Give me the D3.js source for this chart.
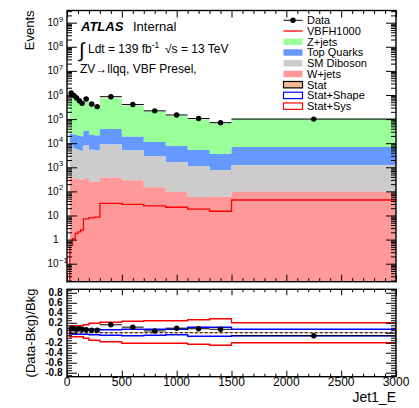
<!DOCTYPE html>
<html><head><meta charset="utf-8">
<script src="https://cdn.jsdelivr.net/npm/d3@7"></script>
<style>
body{margin:0;background:#fff;}
svg{display:block;font-family:"Liberation Sans",Arial,Helvetica,sans-serif;}
</style></head><body>
<svg id="c" width="419" height="408"></svg>
<script>
// ---------------- data ----------------
const binEdges = [25,50,75,100,125,150,200,250,300,500,700,900,1100,1300,1500,3000];
const dataValues = [1200000,950000,750000,580000,450000,680000,420000,330000,850000,400000,220000,148000,105000,71000,100000];
const zjets     = [1086000,857000,679000,517000,402000,609000,378000,293000,694000,341000,201000,128000,92000,62800,99500];
const topQuarks = [16500,16800,16500,15000,14200,25000,16700,16000,30200,13600,8350,5940,4070,2830,5640];
const diboson   = [8020,5880,5170,4700,4500,7650,5050,4750,8420,4710,2700,1560,1070,710,1160];
const wjets     = [480,320,330,300,300,350,250,250,380,290,148,96,58,60,96];
const signalVBFH1000 = [0.58,1.1,1.8,2.1,2.5,7.2,8.0,8.6,32,29,25,22,18.5,15,44];
const statSysUp     = [0.11,0.14,0.14,0.14,0.14,0.16,0.19,0.19,0.21,0.23,0.24,0.24,0.26,0.28,0.20];
const statSysDown   = [0.08,0.08,0.08,0.08,0.08,0.11,0.15,0.15,0.18,0.21,0.21,0.21,0.23,0.25,0.20];
const statShapeUp   = [0.07,0.07,0.07,0.07,0.07,0.07,0.07,0.07,0.06,0.07,0.07,0.07,0.11,0.11,0.07];
const statShapeDown = [0.03,0.03,0.03,0.03,0.03,0.03,0.04,0.04,0.05,0.06,0.05,0.04,0.07,0.07,0.06];
const statOnly      = [0.008,0.008,0.008,0.008,0.008,0.008,0.008,0.008,0.008,0.008,0.008,0.008,0.008,0.008,0.008];
const xTickValues = [0,500,1000,1500,2000,2500,3000];
const mainYTickValues = [0.1,1,10,100,1e3,1e4,1e5,1e6,1e7,1e8,1e9];
const ratioYTickValues = [-0.8,-0.6,-0.4,-0.2,0,0.2,0.4,0.6,0.8];
const legendLabels = ["Data","VBFH1000","Z+jets","Top Quarks","SM Diboson","W+jets","Stat","Stat+Shape","Stat+Sys"];
const colors = {z:"#99ff99", top:"#6699ff", db:"#cccccc", w:"#ff9999", sig:"#ff0000", stat:"#f6b895", shape:"#0000ff", sys:"#ff0000"};

// ---------------- layout ----------------
const svg = d3.select("#c");
const M = {l:67, r:396, t:10.5, b:281.7};
const R = {t:289.3, b:376.7};
const x = d3.scaleLinear().domain([0,3000]).range([M.l,M.r]);
const y = d3.scaleLog().domain([0.0179,3.2e9]).range([M.b,M.t]);
const yr = d3.scaleLinear().domain([-0.88,0.87]).range([R.b,R.t]);

const bins = dataValues.map((d,i)=>{
  const b={x0:binEdges[i],x1:binEdges[i+1],data:d,sig:signalVBFH1000[i]};
  b.c1=wjets[i]; b.c2=b.c1+diboson[i]; b.c3=b.c2+topQuarks[i]; b.c4=b.c3+zjets[i];
  b.ratio=(d-b.c4)/b.c4;
  b.su=statSysUp[i]; b.sd=statSysDown[i]; b.hu=statShapeUp[i]; b.hd=statShapeDown[i]; b.st=statOnly[i];
  return b;
});

const defs = svg.append("defs");
defs.append("clipPath").attr("id","clipM").append("rect")
  .attr("x",M.l).attr("y",M.t).attr("width",M.r-M.l).attr("height",M.b-M.t);
defs.append("clipPath").attr("id","clipR").append("rect")
  .attr("x",M.l).attr("y",R.t).attr("width",M.r-M.l).attr("height",R.b-R.t);

// ---------------- main stack ----------------
const gm = svg.append("g").attr("clip-path","url(#clipM)");
const area = d3.area().x(d=>x(d.x)).y0(d=>d.y0).y1(d=>d.y1);
const layers = [
  {top:"c4", bot:"c3", col:colors.z},
  {top:"c3", bot:"c2", col:colors.top},
  {top:"c2", bot:"c1", col:colors.db},
  {top:"c1", bot:null, col:colors.w}
];
layers.forEach(L=>{
  const pts = bins.flatMap(b=>{
    const y1=y(b[L.top]), y0=L.bot?y(b[L.bot]):M.b+2;
    return [{x:b.x0,y0,y1},{x:b.x1,y0,y1}];
  });
  gm.append("path").attr("d",area(pts)).attr("fill",L.col).attr("stroke","none");
});

// signal
const sigPts = [{x:bins[0].x0,y:M.b+2}].concat(bins.flatMap(b=>[{x:b.x0,y:y(b.sig)},{x:b.x1,y:y(b.sig)}]));
gm.append("path").attr("d",d3.line().x(d=>x(d.x)).y(d=>d.y)(sigPts))
  .attr("fill","none").attr("stroke",colors.sig).attr("stroke-width",1.3);

// data points main
const gd = gm.append("g");
bins.forEach(b=>{
  gd.append("line").attr("x1",x(b.x0)).attr("x2",x(b.x1)).attr("y1",y(b.data)).attr("y2",y(b.data))
    .attr("stroke","#000").attr("stroke-width",1);
  gd.append("circle").attr("cx",x((b.x0+b.x1)/2)).attr("cy",y(b.data)).attr("r",2.7).attr("fill","#000");
});

// ---------------- ratio ----------------
const gr = svg.append("g").attr("clip-path","url(#clipR)");
function bandPath(up,dn){
  const u = bins.flatMap(b=>[[x(b.x0),yr(up(b))],[x(b.x1),yr(up(b))]]);
  const d = bins.flatMap(b=>[[x(b.x0),yr(-dn(b))],[x(b.x1),yr(-dn(b))]]).reverse();
  return d3.line()(u.concat(d))+"Z";
}
gr.append("path").attr("d",bandPath(b=>b.st,b=>b.st)).attr("fill",colors.stat).attr("stroke","none");
gr.append("path").attr("d",bandPath(b=>b.hu,b=>b.hd)).attr("fill","none").attr("stroke",colors.shape).attr("stroke-width",1.3);
gr.append("path").attr("d",bandPath(b=>b.su,b=>b.sd)).attr("fill","none").attr("stroke",colors.sys).attr("stroke-width",1.3);
gr.append("line").attr("x1",x(bins[0].x0)).attr("x2",x(3000)).attr("y1",yr(0)).attr("y2",yr(0))
  .attr("stroke","#000").attr("stroke-width",1.2).attr("stroke-dasharray","3,2");
bins.forEach(b=>{
  gr.append("line").attr("x1",x(b.x0)).attr("x2",x(b.x1)).attr("y1",yr(b.ratio)).attr("y2",yr(b.ratio))
    .attr("stroke","#000").attr("stroke-width",1);
  gr.append("circle").attr("cx",x((b.x0+b.x1)/2)).attr("cy",yr(b.ratio)).attr("r",2.7).attr("fill","#000");
});

// ---------------- axes ----------------
function drawAxis(axisFn, scale, values, len, tr){
  const g = svg.append("g").attr("transform",tr)
    .call(axisFn(scale).tickValues(values).tickSize(-len).tickSizeOuter(0).tickFormat(""));
  g.select(".domain").remove();
  g.selectAll("line").attr("stroke","#000").attr("stroke-width",1);
  return g;
}
const xMinor = d3.range(0,3001,100).filter(v=>v%500!==0);
const logMinor = [];
for(let e=-2;e<=9;e++) for(let k=2;k<=9;k++){const v=k*Math.pow(10,e); if(v>=0.0179&&v<=3.2e9) logMinor.push(v);}
const rMinor = d3.range(-0.85,0.86,0.05).map(v=>Math.round(v*100)/100).filter(v=>Math.abs(Math.round(v*100))%20!==0);

// main
drawAxis(d3.axisBottom,x,xTickValues,7,`translate(0,${M.b})`);
drawAxis(d3.axisBottom,x,xMinor,3.5,`translate(0,${M.b})`);
drawAxis(d3.axisTop,x,xTickValues,7,`translate(0,${M.t})`);
drawAxis(d3.axisTop,x,xMinor,3.5,`translate(0,${M.t})`);
drawAxis(d3.axisLeft,y,mainYTickValues,10,`translate(${M.l},0)`);
drawAxis(d3.axisLeft,y,logMinor,5,`translate(${M.l},0)`);
drawAxis(d3.axisRight,y,mainYTickValues,10,`translate(${M.r},0)`);
drawAxis(d3.axisRight,y,logMinor,5,`translate(${M.r},0)`);
// ratio
drawAxis(d3.axisBottom,x,xTickValues,6,`translate(0,${R.b})`);
drawAxis(d3.axisBottom,x,xMinor,3,`translate(0,${R.b})`);
drawAxis(d3.axisTop,x,xTickValues,6,`translate(0,${R.t})`);
drawAxis(d3.axisTop,x,xMinor,3,`translate(0,${R.t})`);
drawAxis(d3.axisLeft,yr,ratioYTickValues,10,`translate(${M.l},0)`);
drawAxis(d3.axisLeft,yr,rMinor,5,`translate(${M.l},0)`);
drawAxis(d3.axisRight,yr,ratioYTickValues,10,`translate(${M.r},0)`);
drawAxis(d3.axisRight,yr,rMinor,5,`translate(${M.r},0)`);

// frames
[[M.t,M.b],[R.t,R.b]].forEach(([t,b])=>{
  svg.append("rect").attr("x",M.l).attr("y",t).attr("width",M.r-M.l).attr("height",b-t)
    .attr("fill","none").attr("stroke","#000").attr("stroke-width",1.4);
});

// tick labels main y
const gl = svg.append("g").attr("font-size",10).attr("fill","#000");
mainYTickValues.forEach(v=>{
  const e = Math.round(Math.log10(v));
  const yy = y(v)+3.6;
  if(e===0||e===1){
    gl.append("text").attr("x",58.5).attr("y",yy).attr("text-anchor","end").text(e===0?"1":"10");
  } else {
    gl.append("text").attr("x",58.5).attr("y",yy).attr("text-anchor","end").text("10");
    gl.append("text").attr("x",59).attr("y",yy-4.5).attr("font-size",7.5).text(e<0?"\u2212"+(-e):String(e));
  }
});
// ratio y labels
const grl = svg.append("g").attr("font-size",10).attr("font-weight","bold").attr("fill","#000").attr("text-anchor","end");
ratioYTickValues.forEach(v=>{
  grl.append("text").attr("x",62.5).attr("y",yr(v)+3.6).text(v===0?"0":(v<0?"-":"")+Math.abs(v).toFixed(1));
});
// ratio x labels
const gxl = svg.append("g").attr("font-size",12).attr("fill","#000").attr("text-anchor","middle");
xTickValues.forEach(v=>{
  gxl.append("text").attr("x",x(v)).attr("y",386).text(String(v));
});

// axis titles
svg.append("text").attr("transform","translate(34,10.5) rotate(-90)").attr("text-anchor","end")
  .attr("font-size",13).text("Events");
svg.append("text").attr("transform",`translate(35,${(R.t+R.b)/2}) rotate(-90)`).attr("text-anchor","middle")
  .attr("font-size",13).text("(Data-Bkg)/Bkg");
svg.append("text").attr("x",396).attr("y",402).attr("text-anchor","end").attr("font-size",14).text("Jet1_E");

// ATLAS labels
svg.append("text").attr("x",81).attr("y",30.7).attr("font-size",13).attr("font-weight","bold").attr("font-style","italic").text("ATLAS");
svg.append("text").attr("x",133).attr("y",30.7).attr("font-size",13).text("Internal");
svg.append("text").attr("x",79).attr("y",57).attr("font-size",20).text("\u222B");
const lum = svg.append("text").attr("x",88).attr("y",53.3).attr("font-size",12);
lum.append("tspan").text("Ldt = 139 fb");
lum.append("tspan").attr("dy",-5).attr("font-size",8.5).text("-1");
const rs = svg.append("text").attr("x",165).attr("y",53.3).attr("font-size",12);
rs.append("tspan").text("\u221As = 13 TeV");
svg.append("text").attr("x",80).attr("y",72.7).attr("font-size",12).text("ZV\u2192llqq, VBF Presel,");

// legend
const lg = svg.append("g");
const lx0=283.5, lw=19, ly0=20.3, ldy=10.73;
legendLabels.forEach((lab,i)=>{
  const cy = ly0+i*ldy;
  if(i===0){
    lg.append("line").attr("x1",lx0).attr("x2",lx0+lw).attr("y1",cy).attr("y2",cy).attr("stroke","#000").attr("stroke-width",1);
    lg.append("circle").attr("cx",lx0+lw/2).attr("cy",cy).attr("r",2.7).attr("fill","#000");
  } else if(i===1){
    lg.append("line").attr("x1",lx0).attr("x2",lx0+lw).attr("y1",cy).attr("y2",cy).attr("stroke",colors.sig).attr("stroke-width",1.3);
  } else {
    const fills=[null,null,colors.z,colors.top,colors.db,colors.w,colors.stat,"#fff","#fff"];
    const strokes=[null,null,"none","none","none","none","#000",colors.shape,colors.sys];
    lg.append("rect").attr("x",lx0).attr("y",cy-3.2).attr("width",lw).attr("height",6.4)
      .attr("fill",fills[i]).attr("stroke",strokes[i]).attr("stroke-width",1.2);
  }
  lg.append("text").attr("x",307).attr("y",cy+4).attr("font-size",11).text(lab);
});
</script>
</body></html>
